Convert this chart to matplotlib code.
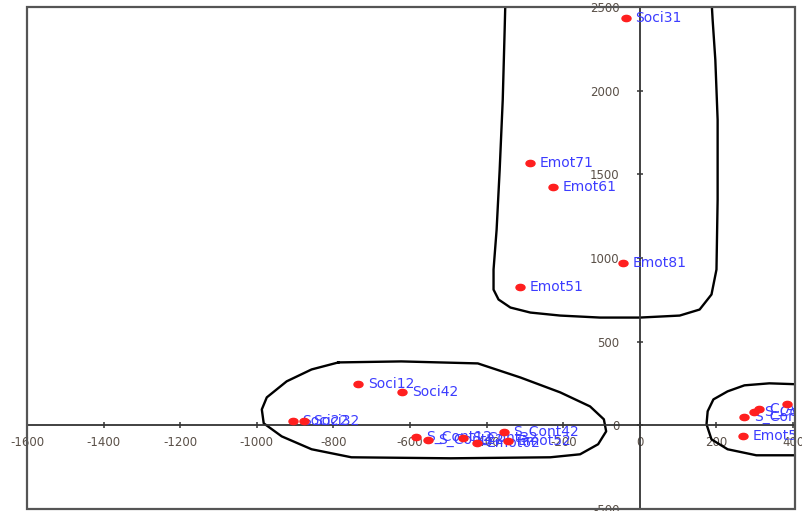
# scatter of item scores with density outlines, axes crossing at the origin
import numpy as np
import matplotlib
matplotlib.use("Agg")
import matplotlib.pyplot as plt
from matplotlib.path import Path
from matplotlib.patches import Rectangle

plt.rcParams["axes.unicode_minus"] = False  # plain hyphen like the original

# point labels and coordinates
labels = ["Soci31", "Emot71", "Emot61", "Emot81", "Emot51",
          "Soci12", "Soci42", "Soci22", "Soci32",
          "S_Cont12", "S_Cont22", "S_Cont32", "Emot62", "S_Cont42", "Emot52",
          "C_Asso2", "C_Asso1", "S_Cons1", "S_Cons2", "Emot53"]
xs = [-37, -288, -226, -44, -314,
      -735, -621, -906, -878,
      -584, -553, -462, -426, -356, -345,
      384, 312, 299, 273, 268]
ys = [2436, 1569, 1426, 972, 829,
      250, 197, 24, 24,
      -72, -90, -78, -107, -42, -95,
      125, 95, 78, 48, -66]

# outline around the upper group (runs off the top edge)
top_cx = [-351, -353, -358, -366, -374, -382, -382, -369, -338, -286, -208, -104,
          0, 104, 156, 187, 200, 203, 203, 197, 190, 187]
top_cy = [2542, 2363, 1945, 1527, 1169, 931, 811, 752, 704, 674, 656, 644,
          644, 656, 692, 782, 931, 1348, 1826, 2184, 2422, 2542]

# outline around the lower-left group
left_cx = [-787, -623, -423, -312, -208, -130, -94, -88, -109, -156, -234, -494,
           -753, -857, -935, -982, -987, -974, -922, -857, -787]
left_cy = [376, 382, 370, 286, 197, 113, 36, -36, -113, -173, -191, -197,
           -191, -143, -66, 12, 95, 167, 263, 334, 376]

# outline around the right group (cut at the right edge)
right_cx = [416, 338, 273, 229, 192, 177, 174, 187, 229, 304, 416]
right_cy = [245, 251, 239, 203, 155, 84, 6, -84, -143, -179, -179]

xticks = [-1600, -1400, -1200, -1000, -800, -600, -400, -200, 0, 200, 400]
yticks = [-500, 0, 500, 1000, 1500, 2000, 2500]

fig = plt.figure(figsize=(8.02, 5.11), dpi=100)
ax = fig.add_axes([27 / 802, 2 / 511, 768 / 802, 502 / 511])
ax.set_xlim(-1600, 405)
ax.set_ylim(-495, 2500)

# outer frame
ax.add_patch(Rectangle((0, 0), 1, 1, transform=ax.transAxes, fill=False,
                       ec="#555555", lw=1.6, clip_on=False, zorder=5))
ax.spines["top"].set_visible(False)
ax.spines["right"].set_visible(False)
ax.spines["left"].set_position(("data", 0))
ax.spines["bottom"].set_position(("data", 0))
for s in ("left", "bottom"):
    ax.spines[s].set_color("#333333")
    ax.spines[s].set_linewidth(1.3)

ax.set_xticks(xticks)
ax.set_yticks(yticks)
ax.tick_params(axis="both", direction="inout", length=5, width=1.1,
               color="#333333", labelcolor="#5a5048", labelsize=8.5)
ax.tick_params(axis="x", pad=5)
ax.tick_params(axis="y", pad=12)

for cx, cy in ((top_cx, top_cy), (left_cx, left_cy), (right_cx, right_cy)):
    ax.plot(cx, cy, color="black", lw=1.7, zorder=2)

circ = Path.unit_circle()
ell = Path(circ.vertices * np.array([1.45, 1.0]), circ.codes)
ax.plot(xs, ys, ls="none", marker=ell, ms=6.5, color="#ff1f1f",
        mec="#ff1f1f", zorder=4)

for lab, x, y in zip(labels, xs, ys):
    ax.annotate(lab, (x, y), xytext=(7, 0), textcoords="offset points",
                va="center", ha="left", fontsize=10, color="#3c3cff",
                annotation_clip=False, clip_on=True, zorder=3)

fig.savefig("out.png", dpi=100)
